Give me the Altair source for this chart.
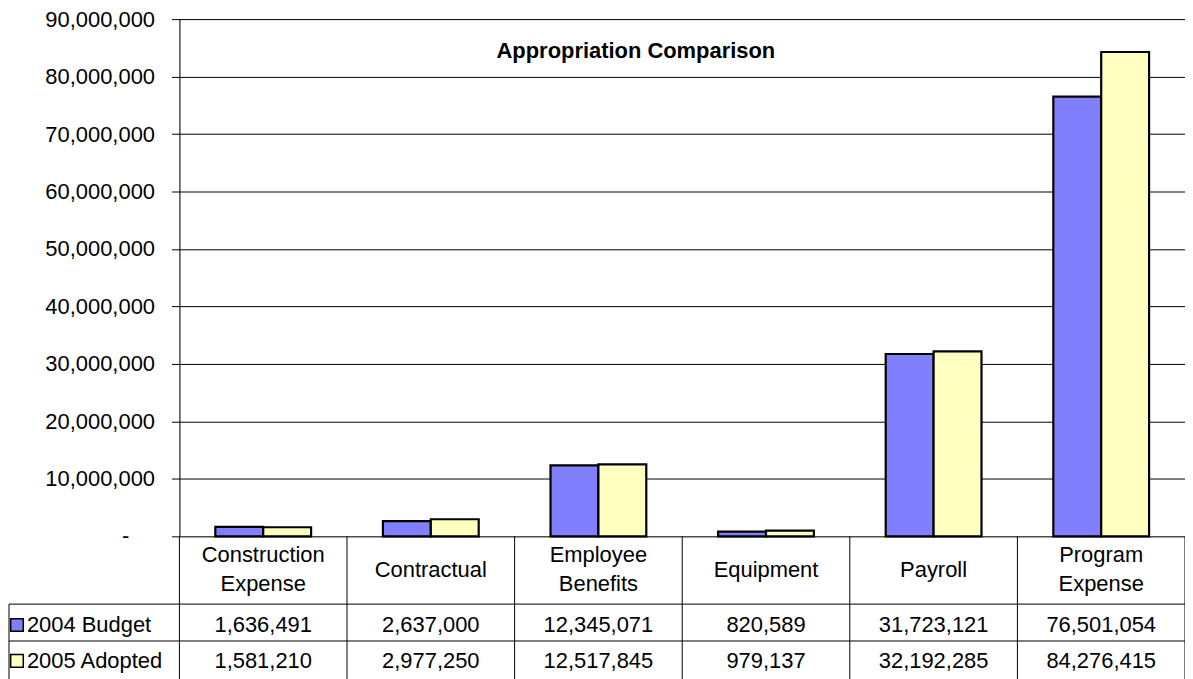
import altair as alt
import pandas as pd

categories = ["Construction Expense", "Contractual", "Employee Benefits",
              "Equipment", "Payroll", "Program Expense"]
category_labels = ["Construction\nExpense", "Contractual", "Employee\nBenefits",
                   "Equipment", "Payroll", "Program\nExpense"]
series_names = ["2004 Budget", "2005 Adopted"]
budget_2004 = [1636491, 2637000, 12345071, 820589, 31723121, 76501054]
adopted_2005 = [1581210, 2977250, 12517845, 979137, 32192285, 84276415]
series_colors = ["#8080FF", "#FFFFC0"]
y_ticks = [0, 10000000, 20000000, 30000000, 40000000, 50000000,
           60000000, 70000000, 80000000, 90000000]
zero_label = "-"
title_text = "Appropriation Comparison"

FONT = "Liberation Sans"
FS = 22
TOP = 10
W, H = 1009, 529 - TOP  # plot bottom at page y 537

rows = []
for i, c in enumerate(categories):
    rows.append({"category": c, "label": category_labels[i], "series": series_names[0], "value": budget_2004[i]})
    rows.append({"category": c, "label": category_labels[i], "series": series_names[1], "value": adopted_2005[i]})
df = pd.DataFrame(rows)
cat_df = pd.DataFrame({"category": categories, "label": category_labels})
ser_df = pd.DataFrame({"series": series_names})

xscale = alt.Scale(domain=categories, paddingInner=0, paddingOuter=0)
cscale = alt.Scale(domain=series_names, range=series_colors)
yscale = alt.Scale(domain=[0, 90000000], nice=False)

def py(page_y):
    return page_y - 8 - TOP

bars = alt.Chart(df).mark_bar(stroke="black", strokeWidth=2.2).encode(
    x=alt.X("category:N", scale=xscale, axis=None, sort=categories),
    xOffset=alt.XOffset("series:N", scale=alt.Scale(domain=series_names, paddingInner=0, paddingOuter=0.75)),
    y=alt.Y("value:Q", scale=yscale,
            axis=alt.Axis(values=y_ticks, title=None, grid=True, gridColor="black", gridWidth=1,
                          gridOpacity=1, domainColor="black", domainWidth=1, tickColor="black",
                          tickSize=8, tickWidth=1, labelFont=FONT, labelFontSize=FS,
                          labelColor="black", labelPadding=17,
                          labelExpr="datum.value == 0 ? '' : format(datum.value, ',')")),
    color=alt.Color("series:N", scale=cscale, legend=None),
)

zero_text = alt.Chart(pd.DataFrame({"v": [0], "t": [zero_label]})).mark_text(
    font=FONT, fontSize=FS, baseline="middle", align="center", color="black"
).encode(x=alt.value(-54), y=alt.Y("v:Q", scale=yscale), text="t:N")

title = alt.Chart(pd.DataFrame({"t": [title_text]})).mark_text(
    font=FONT, fontSize=FS, fontWeight="bold", baseline="middle", align="center", color="black"
).encode(x=alt.value(458), y=alt.value(py(50)), text="t:N")

cat_base = alt.Chart(cat_df).transform_calculate(
    lines="split(datum.label, '\\n')", n="length(split(datum.label, '\\n'))"
)
cat_one = cat_base.transform_filter("datum.n == 1").mark_text(
    font=FONT, fontSize=FS, baseline="middle", align="center", lineHeight=29, color="black").encode(
    x=alt.X("category:N", scale=xscale, sort=categories),
    y=alt.value(py(571)),
    text=alt.Text("lines:N"),
)
cat_two = cat_base.transform_filter("datum.n == 2").mark_text(
    font=FONT, fontSize=FS, baseline="middle", align="center", lineHeight=29, color="black").encode(
    x=alt.X("category:N", scale=xscale, sort=categories),
    y=alt.value(py(556)),
    text=alt.Text("lines:N"),
)

row_y = [py(626), py(662)]
value_layers = []
for s, yy in zip(series_names, row_y):
    value_layers.append(
        alt.Chart(df).transform_filter(alt.datum.series == s).mark_text(
            font=FONT, fontSize=FS, baseline="middle", align="center", color="black"
        ).encode(
            x=alt.X("category:N", scale=xscale, sort=categories),
            y=alt.value(yy),
            text=alt.Text("value:Q", format=","),
        )
    )
    value_layers.append(
        alt.Chart(ser_df).transform_filter(alt.datum.series == s).mark_text(
            font=FONT, fontSize=FS, baseline="middle", align="left", color="black"
        ).encode(x=alt.value(-153), y=alt.value(yy), text="series:N")
    )
    value_layers.append(
        alt.Chart(ser_df).transform_filter(alt.datum.series == s).mark_square(
            size=160, stroke="black", strokeWidth=1.5, opacity=1, filled=True
        ).encode(x=alt.value(-163), y=alt.value(yy), color=alt.Color("series:N", scale=cscale, legend=None))
    )

one = cat_df.head(1)
vlines = alt.Chart(cat_df).mark_rule(color="black", strokeWidth=1).encode(
    x=alt.X("category:N", scale=xscale, sort=categories, bandPosition=0),
    y=alt.value(H), y2=alt.value(H + 170),
)
right_line = alt.Chart(one).mark_rule(color="black", strokeWidth=1).encode(
    x=alt.value(W), y=alt.value(H), y2=alt.value(H + 170))
left_line = alt.Chart(one).mark_rule(color="black", strokeWidth=1).encode(
    x=alt.value(-171), y=alt.value(py(605)), y2=alt.value(H + 170))
hline1 = alt.Chart(one).mark_rule(color="black", strokeWidth=1).encode(
    x=alt.value(-171), x2=alt.value(W), y=alt.value(py(605)))
hline2 = alt.Chart(one).mark_rule(color="black", strokeWidth=1).encode(
    x=alt.value(-171), x2=alt.value(W), y=alt.value(py(642)))

chart = alt.layer(bars, zero_text, title, cat_one, cat_two, vlines, right_line, left_line,
                  hline1, hline2, *value_layers).properties(
    width=W, height=H,
    autosize=alt.AutoSizeParams(type="none"),
    padding={"left": 172, "top": TOP, "right": 0, "bottom": 142},
).configure_view(stroke=None).configure(background="white")

chart.save("out.html", embed_options={"renderer": "svg", "actions": False})
